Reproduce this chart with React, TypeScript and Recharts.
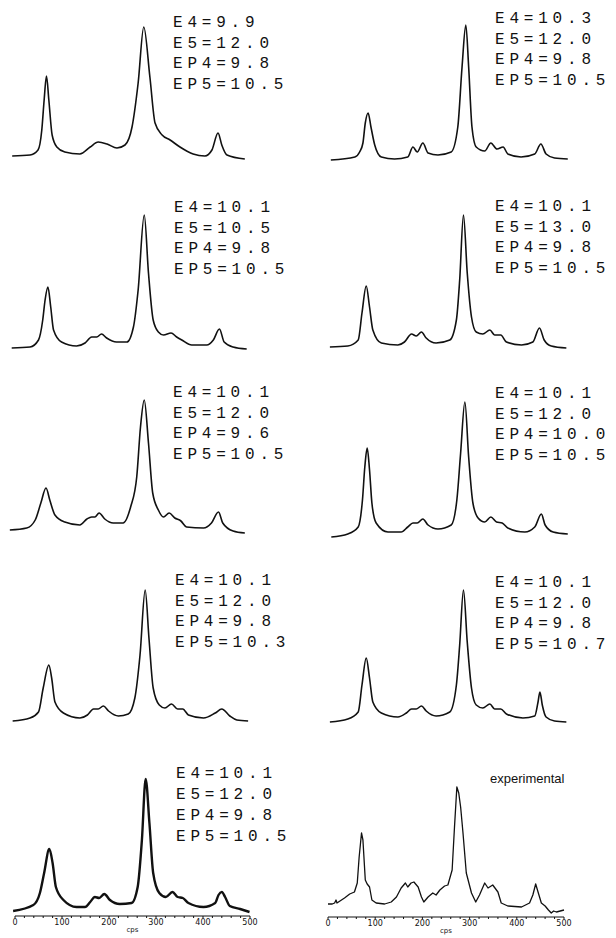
import { LineChart, Line, XAxis, YAxis, ReferenceLine } from 'recharts';

type Pt = [number, number]; // [cps, intensity (arb. units)]

// simulated spectra, left column top -> bottom, then right column
const simA: Pt[] = [[-6, 1], [32, 2], [49, 7], [57, 27], [62, 57], [67, 81], [72, 57], [79, 22], [89, 10], [106, 5], [138, 3], [160, 10], [177, 15], [196, 13], [217, 9], [234, 12], [249, 30], [262, 74], [274, 130], [287, 80], [298, 34], [313, 22], [330, 17], [351, 10], [379, 3], [404, 1], [419, 7], [432, 24], [440, 12], [451, 2], [489, -2]];
const simC: Pt[] = [[-7, 0], [32, 1], [50, 8], [59, 28], [64, 48], [70, 61], [76, 41], [82, 18], [99, 6], [131, 2], [149, 5], [163, 11], [174, 11], [184, 14], [195, 10], [216, 6], [238, 6], [252, 21], [262, 58], [275, 133], [284, 75], [294, 28], [305, 16], [316, 13], [332, 15], [344, 11], [355, 8], [376, 3], [408, 3], [422, 8], [435, 19], [445, 6], [464, 1], [493, -1]];
const simE: Pt[] = [[-11, 0], [25, 2], [43, 10], [55, 27], [66, 42], [74, 30], [85, 15], [106, 8], [138, 5], [153, 11], [163, 13], [170, 13], [179, 17], [191, 11], [209, 7], [230, 7], [246, 23], [259, 53], [267, 103], [275, 130], [284, 87], [293, 37], [305, 20], [316, 13], [328, 17], [340, 12], [353, 9], [365, 3], [401, 2], [418, 7], [433, 18], [442, 7], [464, -1], [489, -3]];
const simG: Pt[] = [[-5, 0], [32, 3], [50, 9], [60, 33], [72, 56], [78, 43], [85, 19], [103, 8], [138, 3], [154, 6], [167, 12], [177, 12], [188, 15], [199, 10], [220, 5], [241, 7], [255, 23], [266, 66], [277, 131], [285, 83], [294, 33], [307, 16], [319, 13], [333, 17], [346, 12], [357, 12], [369, 6], [401, 3], [426, 8], [440, 12], [457, 5], [472, 1], [496, 0]];
const simI: Pt[] = [[-4, 0], [39, 6], [53, 18], [62, 38], [73, 62], [80, 48], [87, 24], [103, 11], [131, 4], [149, 4], [160, 9], [170, 14], [179, 13], [190, 17], [202, 11], [223, 7], [248, 8], [261, 24], [270, 71], [278, 132], [286, 88], [294, 38], [307, 18], [321, 14], [335, 19], [346, 14], [357, 13], [369, 8], [401, 4], [426, 8], [433, 16], [440, 19], [447, 14], [457, 5], [479, 2], [499, -1]];

const simB: Pt[] = [[6, 1], [57, 4], [67, 9], [74, 18], [79, 38], [85, 48], [91, 34], [99, 16], [113, 4], [141, 2], [169, 4], [180, 14], [189, 9], [201, 18], [212, 8], [233, 6], [261, 9], [275, 34], [284, 94], [292, 136], [298, 94], [305, 34], [314, 14], [332, 10], [345, 18], [358, 12], [371, 14], [381, 7], [409, 4], [438, 7], [451, 17], [462, 7], [480, 3], [508, 2]];
const simD: Pt[] = [[4, 0], [42, 1], [64, 7], [72, 34], [81, 61], [88, 40], [95, 17], [113, 4], [148, 2], [162, 5], [177, 13], [187, 11], [198, 15], [208, 9], [229, 4], [258, 7], [272, 27], [279, 67], [287, 132], [295, 74], [304, 30], [314, 15], [328, 13], [343, 17], [353, 12], [366, 12], [378, 5], [410, 2], [434, 5], [448, 19], [458, 7], [473, 1], [505, -1]];
const simF: Pt[] = [[7, -3], [42, 0], [64, 7], [73, 34], [78, 67], [83, 86], [88, 64], [93, 31], [102, 11], [127, 2], [155, 2], [169, 7], [180, 11], [189, 11], [201, 15], [212, 9], [233, 5], [261, 9], [273, 34], [281, 81], [290, 132], [298, 77], [307, 31], [318, 16], [332, 12], [345, 17], [357, 12], [369, 11], [381, 6], [417, 2], [438, 7], [452, 20], [460, 9], [477, 2], [508, 0]];
const simH: Pt[] = [[4, -1], [42, 2], [64, 9], [72, 36], [81, 63], [88, 43], [95, 19], [113, 8], [148, 4], [166, 8], [177, 12], [187, 12], [198, 15], [208, 10], [229, 5], [258, 9], [272, 36], [279, 76], [287, 131], [295, 79], [304, 33], [314, 16], [328, 13], [343, 17], [353, 12], [366, 12], [378, 7], [413, 3], [438, 5], [445, 19], [449, 29], [454, 16], [462, 4], [480, 0], [505, -1]];

const experimental: Pt[] = [[0, 0], [9, 0], [14, 1], [17, 4], [19, 1], [35, 6], [46, 10], [56, 12], [62, 21], [66, 47], [71, 71], [74, 64], [79, 24], [83, 20], [88, 17], [93, 4], [102, 1], [120, 0], [134, 2], [145, 7], [155, 16], [164, 21], [169, 17], [176, 21], [182, 22], [191, 17], [198, 7], [203, 2], [212, 7], [222, 11], [229, 9], [237, 14], [247, 18], [254, 19], [263, 34], [268, 77], [273, 117], [277, 111], [281, 97], [286, 71], [293, 31], [304, 11], [313, 2], [321, 9], [332, 21], [339, 16], [349, 19], [360, 12], [367, 1], [381, -2], [410, -3], [427, 1], [434, 9], [440, 20], [445, 12], [452, 1], [460, -2], [467, -6], [473, -9], [478, -7], [484, -8], [500, -6]];

// parameter sets printed beside each simulated spectrum
const paramsA = ['E4=9.9', 'E5=12.0', 'EP4=9.8', 'EP5=10.5'];
const paramsB = ['E4=10.3', 'E5=12.0', 'EP4=9.8', 'EP5=10.5'];
const paramsC = ['E4=10.1', 'E5=10.5', 'EP4=9.8', 'EP5=10.5'];
const paramsD = ['E4=10.1', 'E5=13.0', 'EP4=9.8', 'EP5=10.5'];
const paramsE = ['E4=10.1', 'E5=12.0', 'EP4=9.6', 'EP5=10.5'];
const paramsF = ['E4=10.1', 'E5=12.0', 'EP4=10.0', 'EP5=10.5'];
const paramsG = ['E4=10.1', 'E5=12.0', 'EP4=9.8', 'EP5=10.3'];
const paramsH = ['E4=10.1', 'E5=12.0', 'EP4=9.8', 'EP5=10.7'];
const paramsI = ['E4=10.1', 'E5=12.0', 'EP4=9.8', 'EP5=10.5'];

const cpsTicks = [0, 20, 40, 60, 80, 100, 120, 140, 160, 180, 200, 220, 240, 260, 280, 300, 320, 340, 360, 380, 400, 420, 440, 460, 480, 500];

const INK = '#111';

// column geometry: x domain [-20, 520] so 0..500 cps lands on the printed scale
const COLS = [
  { left: 0, width: 265, ml: 5.6, mr: 5.6 },
  { left: 308, width: 280, ml: 10.56, mr: 14.56 },
];

function Spectrum({ points, col, baseline, yMin = -10, axis = false, width = 1.6, curve = 'monotone' }: any) {
  const data = points.map(([cps, v]: Pt) => ({ cps, v }));
  const g = COLS[col];
  const axisH = axis ? 20 : 0;
  const mb = axis ? 0 : 5;
  const top = baseline - 140 - 5;
  const height = 5 + (140 - yMin) + axisH + mb;
  return (
    <div style={{ position: 'absolute', left: g.left, top }}>
      <LineChart width={g.width} height={height} data={data}
        margin={{ top: 5, right: g.mr, bottom: mb, left: g.ml }}>
        <XAxis
          dataKey="cps" type="number" domain={[-20, 520]} allowDataOverflow
          hide={!axis} ticks={cpsTicks} interval={0}
          tickFormatter={(t: number) => (t % 100 === 0 ? String(t) : '')}
          tickSize={2} tickMargin={1} axisLine={false}
          tickLine={{ stroke: INK }}
          tick={{ fontSize: 8, fill: INK, fontFamily: 'DejaVu Sans' }}
          height={axisH}
          label={axis ? { value: 'cps', position: 'insideBottom', offset: 4, fontSize: 7, fill: INK, fontFamily: 'DejaVu Sans' } : undefined}
        />
        <YAxis hide type="number" domain={[yMin, 140]} allowDataOverflow />
        {axis && (
          <ReferenceLine segment={[{ x: 0, y: yMin }, { x: 500, y: yMin }]} stroke={INK} strokeWidth={1} />
        )}
        <Line dataKey="v" type={curve} stroke={INK} strokeWidth={width} dot={false}
          isAnimationActive={false} strokeLinejoin="round" />
      </LineChart>
    </div>
  );
}

function Params({ lines, left, top, lh = 20.5 }: { lines: string[]; left: number; top: number; lh?: number }) {
  return (
    <div style={{
      position: 'absolute', left, top, fontFamily: '"Liberation Mono", monospace',
      fontSize: 16, letterSpacing: 4.8, lineHeight: `${lh}px`, color: INK, whiteSpace: 'pre',
    }}>
      {lines.map((l) => <div key={l}>{l}</div>)}
    </div>
  );
}

export default function App() {
  return (
    <div style={{ position: 'absolute', left: 0, top: 0, width: 616, height: 938, overflow: 'hidden', background: '#fff' }}>
      <Spectrum points={simA} col={0} baseline={157} />
      <Spectrum points={simC} col={0} baseline={348} />
      <Spectrum points={simE} col={0} baseline={530} />
      <Spectrum points={simG} col={0} baseline={721} />
      <Spectrum points={simI} col={0} baseline={911} yMin={-5} axis width={2.4} />

      <Spectrum points={simB} col={1} baseline={161} />
      <Spectrum points={simD} col={1} baseline={347} />
      <Spectrum points={simF} col={1} baseline={534} />
      <Spectrum points={simH} col={1} baseline={721} />
      <Spectrum points={experimental} col={1} baseline={904} yMin={-13} axis width={1.3} curve="linear" />

      <Params lines={paramsA} left={173} top={13} />
      <Params lines={paramsC} left={174} top={198} />
      <Params lines={paramsE} left={173} top={383} />
      <Params lines={paramsG} left={175} top={571} />
      <Params lines={paramsI} left={176} top={764} lh={21} />

      <Params lines={paramsB} left={495} top={9} />
      <Params lines={paramsD} left={495} top={197} />
      <Params lines={paramsF} left={495} top={384} />
      <Params lines={paramsH} left={495} top={573} />

      <div style={{
        position: 'absolute', left: 490, top: 772, fontFamily: '"Liberation Sans", sans-serif',
        fontSize: 13, lineHeight: '13px', color: INK,
      }}>experimental</div>
    </div>
  );
}
